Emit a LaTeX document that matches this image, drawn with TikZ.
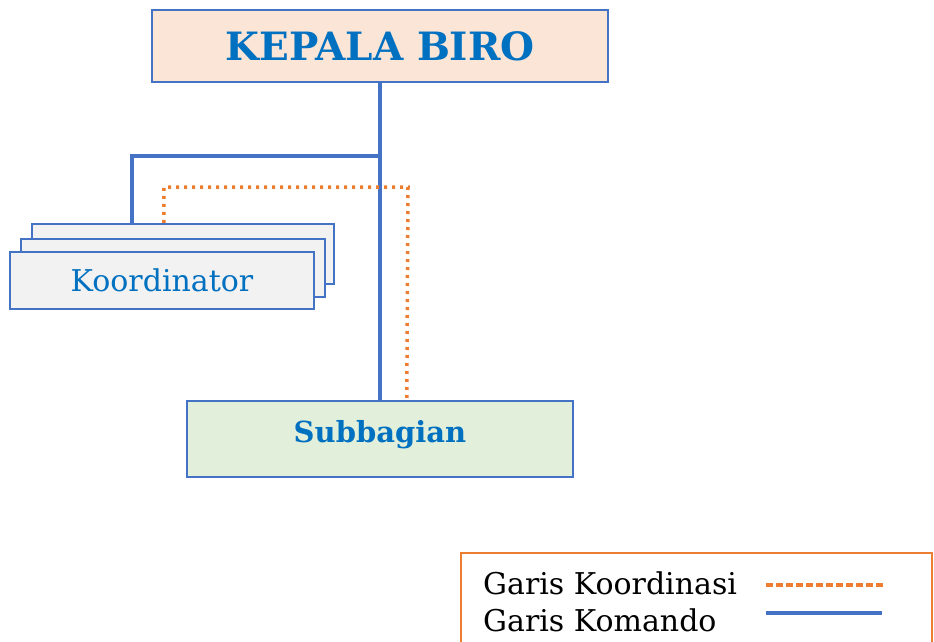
\documentclass[tikz,border=0pt]{standalone}
\usepackage{fontspec}
\setmainfont{DejaVu Serif}
\usetikzlibrary{calc}
\definecolor{boxblue}{HTML}{4472C4}
\definecolor{textblue}{HTML}{0070C0}
\definecolor{coordorange}{HTML}{ED7D31}
\definecolor{peach}{HTML}{FBE5D6}
\definecolor{lightgrey}{HTML}{F2F2F2}
\definecolor{lightgreen}{HTML}{E2EFDA}
\tikzset{
  unitbox/.style={draw=boxblue, line width=2.5pt, inner sep=0pt},
  command/.style={draw=boxblue, line width=3.5pt},
  coordline/.style={draw=coordorange, line width=3.5pt, dash pattern=on 3pt off 5pt},
  legenddash/.style={draw=coordorange, line width=3.5pt, dash pattern=on 7pt off 3pt},
  legendtext/.style={anchor=west, inner sep=0pt, font=\fontsize{30}{32}\selectfont}
}
\begin{document}
\begin{tikzpicture}[x=1pt, y=-1pt]
  \clip (0,0) rectangle (934,642);
  \useasboundingbox (0,0) rectangle (934,642);

  % head of the bureau
  \node[unitbox, fill=peach, minimum width=456pt, minimum height=72pt,
        text=textblue, font=\fontsize{39}{41}\selectfont\bfseries]
        (kepala) at (380,46) {KEPALA BIRO};

  % stacked coordinator boxes
  \node[unitbox, fill=lightgrey, minimum width=302pt, minimum height=60pt] (kb) at (183,254) {};
  \node[unitbox, fill=lightgrey, minimum width=304pt, minimum height=58pt] (km) at (173,268) {};
  \node[unitbox, fill=lightgrey, minimum width=304pt, minimum height=57pt,
        text=textblue, font=\fontsize{30}{32}\selectfont]
        (kf) at (162,280.5) {Koordinator};

  % sub-division
  \node[unitbox, fill=lightgreen, minimum width=386pt, minimum height=76pt,
        text=textblue, font=\fontsize{29}{31}\selectfont\bfseries, text depth=16pt]
        (sub) at (380,439) {Subbagian};

  % command lines
  \coordinate (junction) at (380,156);
  \draw[command] (kepala.south) -- (sub.north);
  \draw[command] (junction) -| ([xshift=101pt]kb.north west);

  % coordination line
  \draw[coordline] ([xshift=133pt]kb.north west) |- (408,187) -- ([xshift=221pt]sub.north west);

  % legend
  \node[draw=coordorange, line width=2.5pt, minimum width=471pt, minimum height=110pt]
        (legend) at (696.5,608) {};
  \node[legendtext] (lk) at (483,583) {Garis Koordinasi};
  \node[legendtext] (lc) at (483,620) {Garis Komando};
  \coordinate (lk1) at (766,585);
  \coordinate (lk2) at (886,585);
  \coordinate (lc1) at (766,613);
  \coordinate (lc2) at (882,613);
  \draw[legenddash] (lk1) -- (lk2);
  \draw[command] (lc1) -- (lc2);
\end{tikzpicture}
\end{document}
